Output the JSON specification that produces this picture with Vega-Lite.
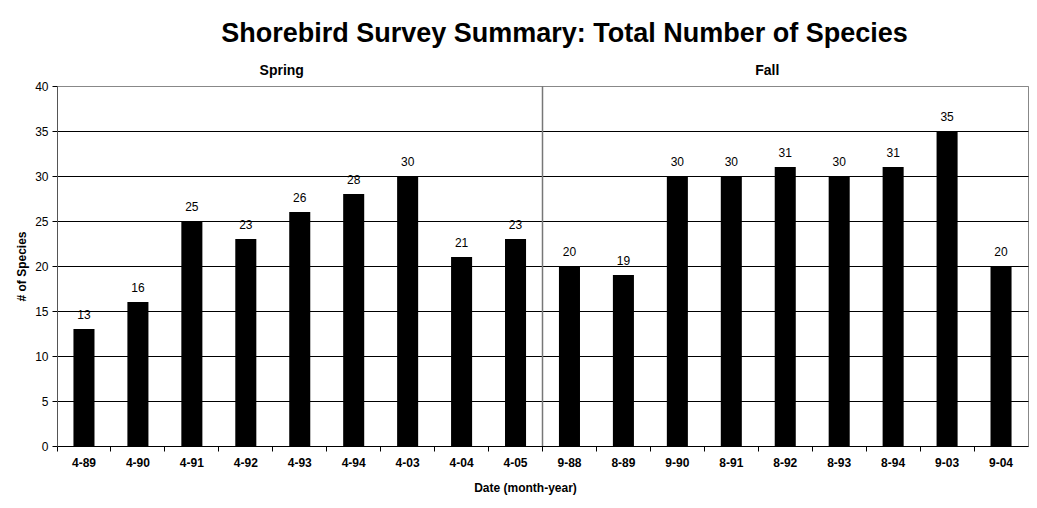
{
  "$schema": "https://vega.github.io/schema/vega-lite/v6.json",
  "autosize": "none",
  "width": 971,
  "height": 360,
  "padding": {"left": 57, "top": 86, "right": 9, "bottom": 62},
  "background": "white",
  "title": {
    "text": "Shorebird Survey Summary: Total Number of Species",
    "font": "Liberation Sans",
    "fontSize": 27,
    "fontWeight": "bold",
    "color": "black",
    "anchor": "middle",
    "dx": 22,
    "offset": 16
  },
  "config": {
    "view": {"stroke": "#888888", "strokeWidth": 1},
    "axis": {"labelFont": "Liberation Sans", "titleFont": "Liberation Sans", "labelColor": "black", "titleColor": "black"}
  },
  "datasets": {
    "surveys": [
      {"date": "4-89", "season": "Spring", "species": 13},
      {"date": "4-90", "season": "Spring", "species": 16},
      {"date": "4-91", "season": "Spring", "species": 25},
      {"date": "4-92", "season": "Spring", "species": 23},
      {"date": "4-93", "season": "Spring", "species": 26},
      {"date": "4-94", "season": "Spring", "species": 28},
      {"date": "4-03", "season": "Spring", "species": 30},
      {"date": "4-04", "season": "Spring", "species": 21},
      {"date": "4-05", "season": "Spring", "species": 23},
      {"date": "9-88", "season": "Fall", "species": 20},
      {"date": "8-89", "season": "Fall", "species": 19},
      {"date": "9-90", "season": "Fall", "species": 30},
      {"date": "8-91", "season": "Fall", "species": 30},
      {"date": "8-92", "season": "Fall", "species": 31},
      {"date": "8-93", "season": "Fall", "species": 30},
      {"date": "8-94", "season": "Fall", "species": 31},
      {"date": "9-03", "season": "Fall", "species": 35},
      {"date": "9-04", "season": "Fall", "species": 20}
    ],
    "seasons": [
      {"season": "Spring", "at": "4-93"},
      {"season": "Fall", "at": "8-92"}
    ],
    "divider": [
      {"at": "9-88"}
    ]
  },
  "layer": [
    {
      "data": {"name": "surveys"},
      "mark": {"type": "bar", "color": "black", "width": {"band": 0.39}},
      "encoding": {
        "x": {
          "field": "date",
          "type": "nominal",
          "sort": null,
          "scale": {
            "domain": ["4-89", "4-90", "4-91", "4-92", "4-93", "4-94", "4-03", "4-04", "4-05", "9-88", "8-89", "9-90", "8-91", "8-92", "8-93", "8-94", "9-03", "9-04"],
            "paddingInner": 0,
            "paddingOuter": 0
          },
          "axis": {
            "title": "Date (month-year)",
            "titleFontSize": 12,
            "titleFontWeight": "bold",
            "titleX": 468,
            "titlePadding": 14,
            "labelAngle": 0,
            "labelFontSize": 12,
            "labelFontWeight": "bold",
            "labelPadding": 6,
            "bandPosition": 0,
            "tickColor": "black",
            "tickSize": 5,
            "domainColor": "black",
            "grid": false
          }
        },
        "y": {
          "field": "species",
          "type": "quantitative",
          "scale": {"domain": [0, 40]},
          "axis": {
            "title": "# of Species",
            "titleFontSize": 12,
            "titleFontWeight": "bold",
            "titlePadding": 6,
            "values": [0, 5, 10, 15, 20, 25, 30, 35, 40],
            "labelFontSize": 12,
            "labelFontWeight": "normal",
            "labelPadding": 4,
            "tickColor": "black",
            "tickSize": 5,
            "domainColor": "#555555",
            "grid": true,
            "gridColor": {"condition": {"test": "datum.value === 40 || datum.value === 0", "value": "#888888"}, "value": "black"},
            "gridOpacity": 1
          }
        }
      }
    },
    {
      "data": {"name": "surveys"},
      "mark": {"type": "text", "font": "Liberation Sans", "fontSize": 12, "color": "black", "baseline": "bottom", "dy": -7},
      "encoding": {
        "x": {"field": "date", "type": "nominal", "sort": null},
        "y": {"field": "species", "type": "quantitative"},
        "text": {"field": "species", "type": "quantitative"}
      }
    },
    {
      "data": {"name": "divider"},
      "mark": {"type": "rule", "color": "#777777", "strokeWidth": 1.5},
      "encoding": {
        "x": {"field": "at", "type": "nominal", "bandPosition": 0},
        "y": {"datum": 0},
        "y2": {"datum": 40}
      }
    },
    {
      "data": {"name": "seasons"},
      "mark": {"type": "text", "font": "Liberation Sans", "fontSize": 14, "fontWeight": "bold", "color": "black", "baseline": "bottom", "dy": -8, "dx": -18},
      "encoding": {
        "x": {"field": "at", "type": "nominal", "bandPosition": 0.5},
        "y": {"datum": 40},
        "text": {"field": "season", "type": "nominal"}
      }
    }
  ]
}
